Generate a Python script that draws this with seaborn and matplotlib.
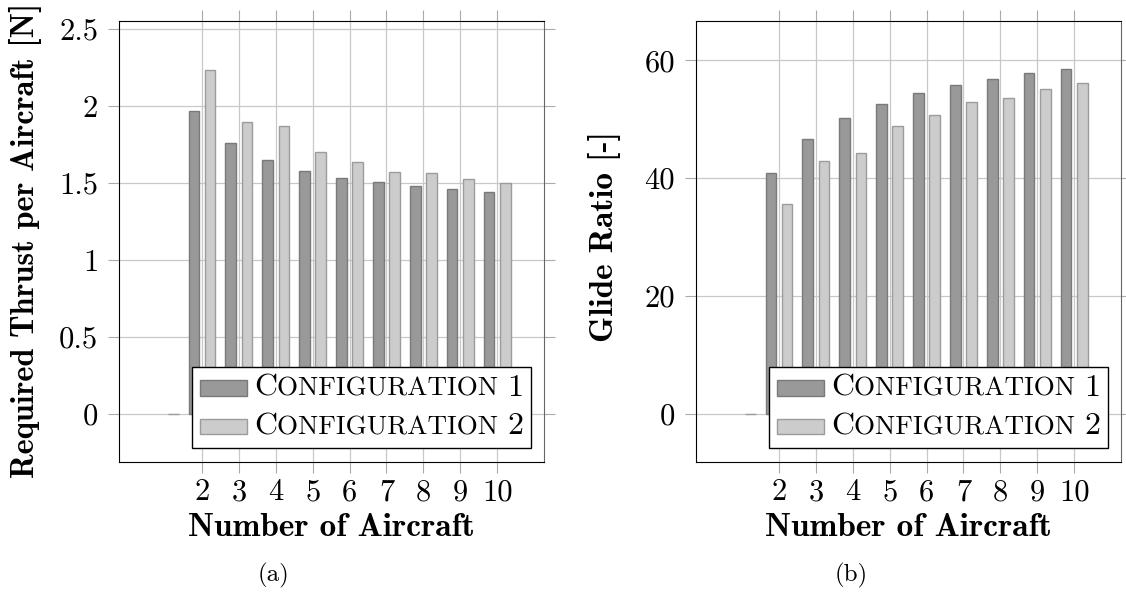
import numpy as np
import pandas as pd
import seaborn as sns
import matplotlib
matplotlib.use("Agg")
import matplotlib.pyplot as plt
from matplotlib.offsetbox import AnchoredOffsetbox, HPacker, VPacker, TextArea, DrawingArea
from matplotlib.patches import Rectangle

# ---------------------------------------------------------------- data
config_names = ["Configuration 1", "Configuration 2"]

aircraft_c1 = [2, 3, 4, 5, 6, 7, 8, 9, 10]
aircraft_c2 = [1, 2, 3, 4, 5, 6, 7, 8, 9, 10]

thrust_c1 = [1.97, 1.76, 1.65, 1.58, 1.535, 1.505, 1.48, 1.46, 1.44]
thrust_c2 = [0.0, 2.235, 1.895, 1.87, 1.70, 1.635, 1.575, 1.565, 1.525, 1.50]

glide_c1 = [40.9, 46.6, 50.2, 52.6, 54.4, 55.8, 56.9, 57.8, 58.5]
glide_c2 = [0.0, 35.6, 43.0, 44.2, 48.8, 50.8, 53.0, 53.6, 55.1, 56.1]

x_ticks = [2, 3, 4, 5, 6, 7, 8, 9, 10]
thrust_ticks = [0, 0.5, 1, 1.5, 2, 2.5]
glide_ticks = [0, 20, 40, 60]

fill_colors = ["#999999", "#cccccc"]
edge_colors = ["#7a7a7a", "#9c9c9c"]

# ---------------------------------------------------------------- style
sns.set_theme(style="white")
plt.rcParams["font.family"] = ["cmr10", "DejaVu Sans"]
plt.rcParams["mathtext.fontset"] = "cm"
plt.rcParams["axes.formatter.use_mathtext"] = True
plt.rcParams["axes.unicode_minus"] = False
plt.rcParams["text.color"] = "black"
plt.rcParams["axes.labelcolor"] = "black"
plt.rcParams["xtick.labelcolor"] = "black"
plt.rcParams["ytick.labelcolor"] = "black"

TICK_FS = 22
LABEL_FS = 24
GRID_C = "#c8c8c8"


def long_frame(x1, v1, x2, v2):
    return pd.DataFrame({
        "aircraft": list(x1) + list(x2),
        "value": list(v1) + list(v2),
        "config": [config_names[0]] * len(x1) + [config_names[1]] * len(x2),
    })


def smallcaps_legend(ax):
    """Legend box with small-caps entries (large initial, smaller capitals)."""
    rows = []
    big = dict(fontsize=23, family="cmr10", color="black")
    small = dict(fontsize=19.5, family="cmr10", color="black")
    for name, fc, ec in zip(config_names, fill_colors, edge_colors):
        word, number = name.split(" ")
        da = DrawingArea(34, 11, 0, 0)
        da.add_artist(Rectangle((0, 0), 34, 11, facecolor=fc, edgecolor=ec, linewidth=1.0))
        txt = HPacker(children=[TextArea(word[0], textprops=big),
                                TextArea(word[1:].upper() + " ", textprops=small),
                                TextArea(number, textprops=big)],
                      align="baseline", pad=0, sep=0)
        rows.append(HPacker(children=[da, txt], align="center", pad=0, sep=5))
    box = VPacker(children=rows, align="left", pad=0, sep=8)
    anchored = AnchoredOffsetbox(loc="lower right", child=box, pad=0.55, borderpad=0,
                                 frameon=True, prop=dict(size=10),
                                 bbox_to_anchor=(1 - 13 / 425, 14 / 441),
                                 bbox_transform=ax.transAxes)
    anchored.patch.set_edgecolor("black")
    anchored.patch.set_linewidth(1.0)
    anchored.patch.set_facecolor("white")
    anchored.set_zorder(10)
    ax.add_artist(anchored)


def draw_panel(ax, df, yticks, ylim, ylabel, ylabel_fs):
    sns.barplot(data=df, x="aircraft", y="value", hue="config",
                hue_order=config_names, palette=fill_colors, native_scale=True,
                width=0.88, gap=0.34, errorbar=None, legend=False,
                saturation=1, linewidth=1.0, ax=ax)
    for container, ec in zip(ax.containers, edge_colors):
        for patch in container:
            patch.set_edgecolor(ec)

    ax.set_xlim(-0.25, 11.27)
    ax.set_ylim(*ylim)
    ax.set_xticks(x_ticks)
    ax.set_xticklabels([str(v) for v in x_ticks])
    ax.set_yticks(yticks)
    ax.set_yticklabels([f"{v:g}" for v in yticks])

    ax.set_axisbelow(True)
    ax.grid(True, color=GRID_C, linewidth=0.9)
    ax.tick_params(axis="both", which="major", direction="out", length=8,
                   width=0.8, color="#aaaaaa", labelcolor="black", labelsize=TICK_FS,
                   top=True, right=True, bottom=True, left=True,
                   labeltop=False, labelright=False)
    ax.tick_params(axis="y", pad=7)
    ax.tick_params(axis="x", pad=4)
    for side in ["left", "top", "bottom"]:
        ax.spines[side].set_color("black")
        ax.spines[side].set_linewidth(0.8)
    ax.spines["right"].set_color("#666666")
    ax.spines["right"].set_linewidth(0.8)

    ax.set_xlabel("Number of Aircraft", fontsize=LABEL_FS, family="cmb10", labelpad=5)
    ax.set_ylabel(ylabel, fontsize=ylabel_fs, family="cmb10")
    ax.yaxis.label.set_verticalalignment("center")
    smallcaps_legend(ax)


fig = plt.figure(figsize=(11.26, 5.96), dpi=100)
ax_a = fig.add_axes([119 / 1126, 1 - 462 / 596, 425 / 1126, 441 / 596])
ax_b = fig.add_axes([696 / 1126, 1 - 462 / 596, 425 / 1126, 441 / 596])

draw_panel(ax_a, long_frame(aircraft_c1, thrust_c1, aircraft_c2, thrust_c2),
           thrust_ticks, (-0.31, 2.552), "Required Thrust per Aircraft [N]", 23.3)
ax_a.yaxis.set_label_coords(-0.221, 0.503)

draw_panel(ax_b, long_frame(aircraft_c1, glide_c1, aircraft_c2, glide_c2),
           glide_ticks, (-8.2, 66.7), "Glide Ratio [-]", 24)
ax_b.yaxis.set_label_coords(-0.216, 0.512)

fig.text(274 / 1126, 1 - 575 / 596, "(a)", ha="center", va="center", fontsize=18, family="cmr10")
fig.text(851 / 1126, 1 - 575 / 596, "(b)", ha="center", va="center", fontsize=18, family="cmr10")

fig.savefig("out.png", dpi=100)
